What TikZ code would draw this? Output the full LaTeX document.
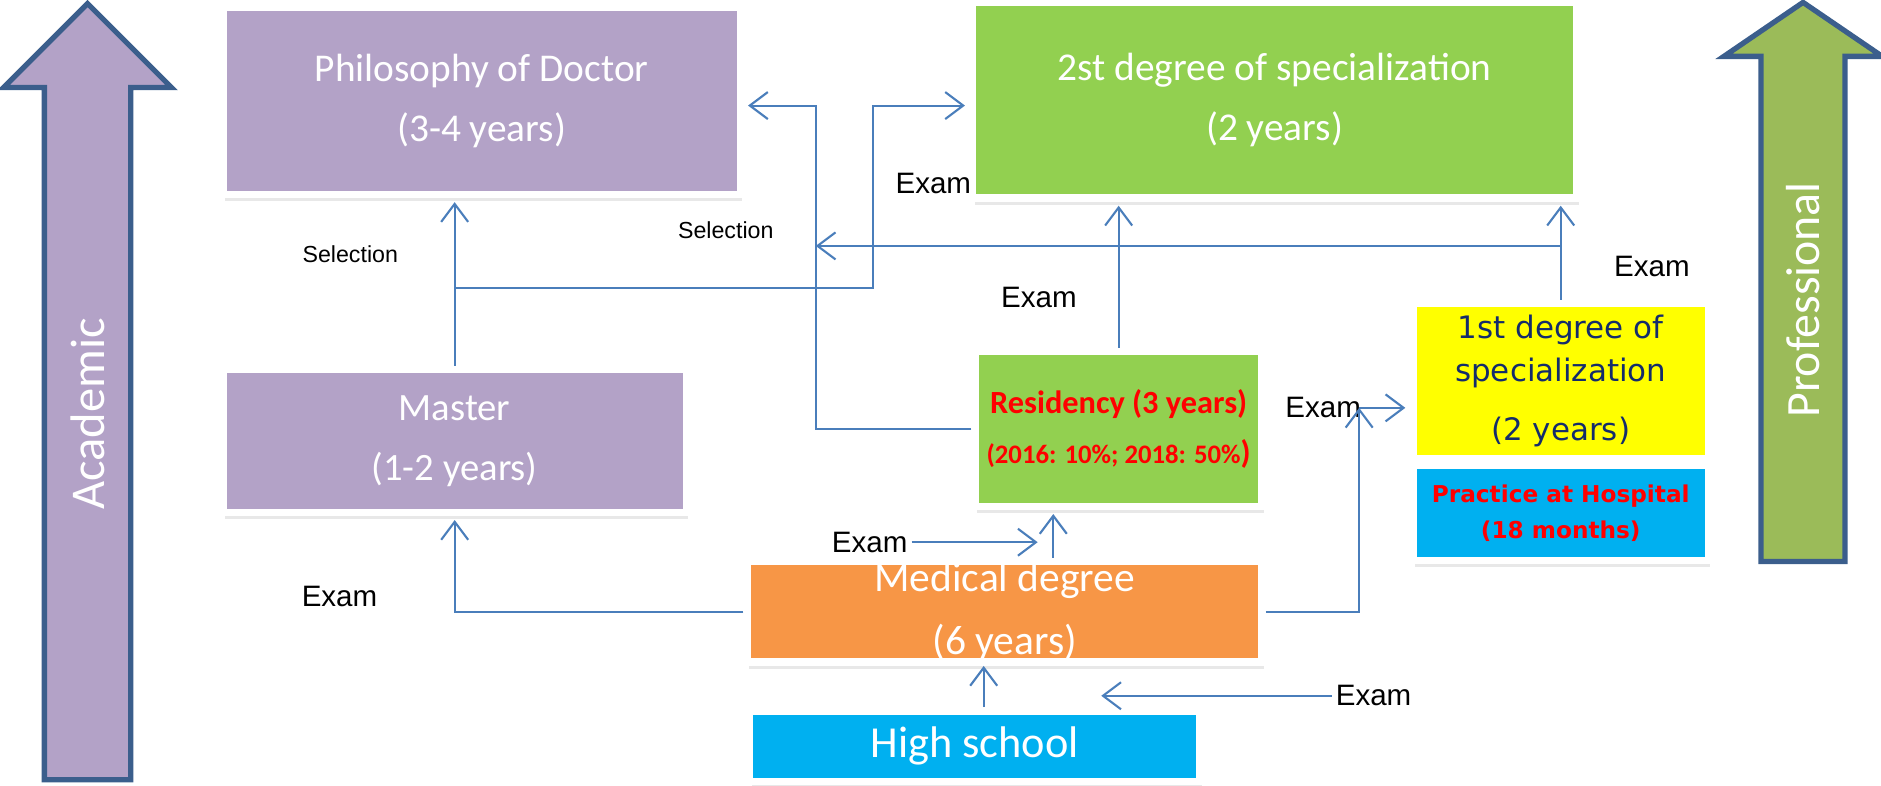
\documentclass[tikz,border=0pt]{standalone}
\usepackage{fontspec}
\setmainfont{Carlito}
\newfontfamily\arialf{Liberation Sans}
\newfontfamily\verdf{DejaVu Sans}
\usetikzlibrary{arrows.meta,shadows}
\definecolor{lilas}{HTML}{B3A2C7}
\definecolor{vert}{HTML}{92D050}
\definecolor{olive}{HTML}{9BBB59}
\definecolor{orange}{HTML}{F79646}
\definecolor{ciel}{HTML}{00B0F0}
\definecolor{jaune}{HTML}{FFFF00}
\definecolor{lien}{HTML}{4A7EBB}
\definecolor{bord}{HTML}{3B5E8C}
\definecolor{marine}{HTML}{142C6B}
\definecolor{rouge}{HTML}{FF0000}

\begin{document}
\begin{tikzpicture}[x=0.012cm,y=-0.012cm,
	box/.style={draw=white,line width=0.075cm,inner sep=0pt,align=center,text=white,
		drop shadow={shadow xshift=0.02cm,shadow yshift=-0.07cm,opacity=0.18}},
	conn/.style={draw=lien,line width=0.6pt},
	tip/.style={-{Straight Barb[length=1.8mm,width=2.7mm]}},
	gap/.style={shorten >=0.04cm},
	exam/.style={font=\arialf\fontsize{8.4}{10}\selectfont,inner sep=1pt},
	sel/.style={font=\arialf\fontsize{6.6}{8}\selectfont},
	bigarrow/.style={draw=bord,line width=1.5pt,line join=miter}]
	\useasboundingbox (0,0) rectangle (1568,655);

	%fleches laterales
	\draw [bigarrow,fill=lilas] (73,3) -- (143,73) -- (109,73) -- (109,650) -- (37,650) -- (37,73) -- (3,73) -- cycle;
	\node [rotate=90,text=white,font=\fontsize{13.8}{16}\selectfont] (acad) at (73,345) {Academic};
	\draw [bigarrow,fill=olive] (1503,2) -- (1569,47) -- (1538,47) -- (1538,468) -- (1468,468) -- (1468,47) -- (1437,47) -- cycle;
	\node [rotate=90,text=white,font=\fontsize{13.6}{16}\selectfont] (prof) at (1503,250) {Professional};
	%fin

	\node [box,fill=lilas,minimum width=5.172cm,minimum height=1.872cm,font=\fontsize{11.2}{17.1}\selectfont] (phd) at (401.5,84) {Philosophy of Doctor\\(3-4 years)};
	\node [box,fill=vert,minimum width=6.036cm,minimum height=1.956cm,font=\fontsize{11.2}{17.1}\selectfont] (spec2) at (1062.5,83.5) {2st degree of specialization\\(2 years)};
	\node [box,fill=lilas,minimum width=4.632cm,minimum height=1.428cm,font=\fontsize{11}{17.1}\selectfont] (master) at (379,367.5) {Master\\(1-2 years)};
	\node [box,fill=vert,minimum width=2.868cm,minimum height=1.548cm,text=rouge,font=\bfseries\fontsize{9.2}{14.3}\selectfont] (res) at (932.5,357.5) {Residency (3 years)\\\fontsize{7.6}{14.3}\selectfont(2016: 10\%; 2018: 50\%{\fontsize{9.2}{14.3}\selectfont)}};
	\node [box,fill=orange,minimum width=5.148cm,minimum height=1.008cm,font=\fontsize{11.8}{17.8}\selectfont] (med) at (837.5,510) {Medical degree\\(6 years)};
	\node [box,fill=ciel,minimum width=4.5cm,minimum height=0.708cm,font=\fontsize{12.6}{15}\selectfont] (hs) at (812.5,622) {High school};
	\node [box,fill=jaune,minimum width=2.952cm,minimum height=1.548cm,text=marine,font=\verdf\fontsize{8.8}{12.3}\selectfont] (first) at (1301,317.5) {1st degree of\\specialization\\[4.4pt](2 years)};
	\node [box,fill=ciel,minimum width=2.952cm,minimum height=0.948cm,text=rouge,font=\verdf\bfseries\fontsize{6.6}{10.3}\selectfont] (prac) at (1301,427.5) {Practice at Hospital\\(18 months)};

	\node [sel] (sel1) at (292,212) {Selection};
	\node [sel] (sel2) at (605,192) {Selection};
	\node [exam] (ex1) at (778,153) {Exam};
	\node [exam] (ex2) at (866,248) {Exam};
	\node [exam] (ex3) at (1377,222) {Exam};
	\node [exam] (ex4) at (1103,340) {Exam};
	\node [exam] (ex5) at (283,497) {Exam};
	\node [exam] (ex6) at (725,452) {Exam};
	\node [exam] (ex7) at (1145,580) {Exam};

	\coordinate (ax) at (378,240);
	\coordinate (bx) at (728,88);
	\coordinate (cx) at (680,88);
	\coordinate (dx) at (680,205);
	\coordinate (jx) at (1133,340);
	\coordinate (fx) at (878,0);
	\coordinate (gx) at (820,0);
	\coordinate (hx) at (865,0);
	\coordinate (ix) at (918,0);

	%voie academique
	\draw [conn,tip,gap] (master.north) -- (master.north |- phd.south);
	\draw [conn,tip,gap] (master.north |- ax) -| (bx) -- (bx -| spec2.west);
	\draw [conn,tip,gap] (res.west) -| (cx) -- (cx -| phd.east);
	\draw [conn,tip] (first.north |- dx) -- (dx);
	\draw [conn,tip,gap] (med.west) -| (master.south);

	%voie professionnelle
	\draw [conn,tip,gap] (first.north) -- (first.north |- spec2.south);
	\draw [conn,tip,gap] (res.north) -- (res.north |- spec2.south);
	\draw [conn,tip] (med.east) -| (jx);
	\draw [conn,tip,gap] (jx) -- (jx -| first.west);
	\draw [conn,tip,gap] (med.north -| fx) -- (res.south -| fx);
	\draw [conn,tip] (hs.north -| gx) -- (med.south -| gx);
	\draw [conn,tip] (ex6.east) -- (ex6.east -| hx);
	\draw [conn,tip] (ex7.west) -- (ex7.west -| ix);
\end{tikzpicture}
\end{document}
